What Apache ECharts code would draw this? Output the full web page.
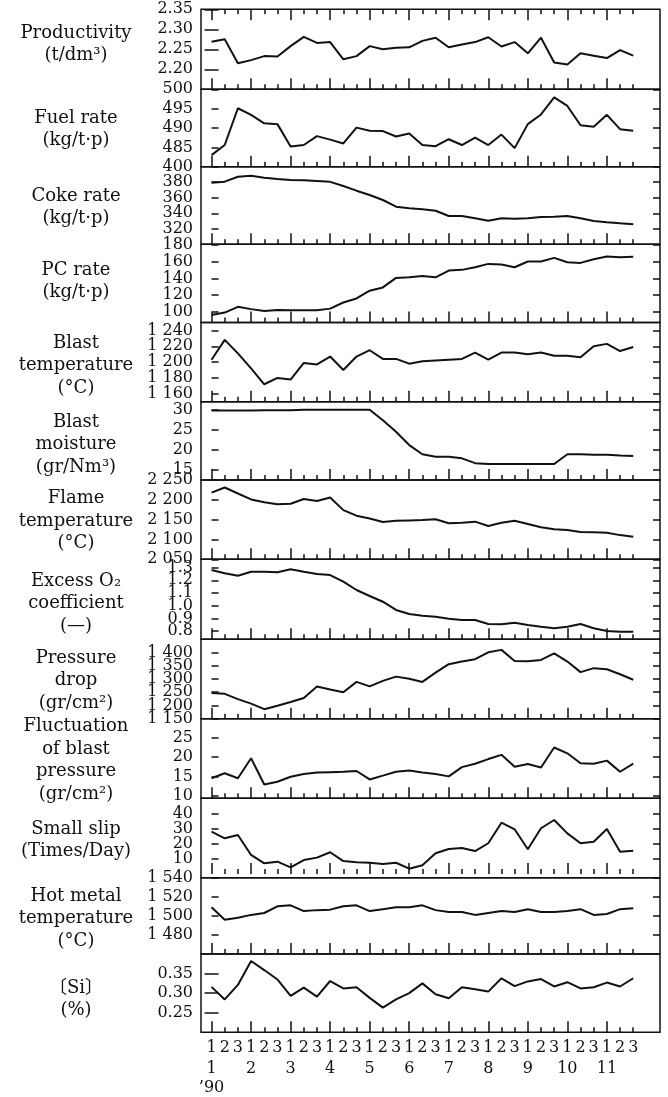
<!DOCTYPE html>
<html>
<head>
<meta charset="utf-8">
<script src="https://cdn.jsdelivr.net/npm/echarts@6/dist/echarts.min.js"></script>
<style>
  html, body { margin: 0; padding: 0; background: #fff; }
  #chart { width: 668px; height: 1097px; }
</style>
</head>
<body>
<div id="chart"></div>
<script>
// x axis: ten-day periods (1st/2nd/3rd dekad) of Jan - Nov 1990
const dekadLabels = ['1', '2', '3']
const monthLabels = ['1', '2', '3', '4', '5', '6', '7', '8', '9', '10', '11']
const yearLabel = '’90'

// series values, one per dekad (33 points)
const productivity = [2.269, 2.275, 2.215, 2.223, 2.233, 2.232, 2.258, 2.281, 2.266, 2.268, 2.225, 2.233, 2.258, 2.250, 2.254, 2.255, 2.271, 2.279, 2.255, 2.262, 2.268, 2.280, 2.257, 2.268, 2.240, 2.279, 2.217, 2.212, 2.240, 2.234, 2.228, 2.248, 2.234]
const fuelRate = [483.0, 485.6, 495.1, 493.4, 491.2, 491.0, 485.2, 485.6, 487.9, 487.0, 486.0, 490.1, 489.3, 489.2, 487.8, 488.6, 485.6, 485.3, 487.1, 485.6, 487.5, 485.6, 488.3, 484.8, 491.0, 493.5, 497.9, 495.7, 490.7, 490.3, 493.4, 489.7, 489.3]
const cokeRate = [379.4, 380.7, 387.1, 388.4, 385.8, 384.1, 382.9, 382.5, 381.6, 380.5, 375.1, 369.1, 363.5, 357.1, 348.5, 346.4, 345.1, 343.3, 336.5, 336.5, 333.5, 330.4, 333.5, 333.0, 333.5, 335.2, 335.6, 336.5, 333.5, 330.0, 328.3, 327.0, 325.8]
const pcRate = [96.5, 99.3, 106.1, 103.4, 101.3, 102.5, 102.2, 102.2, 102.2, 104.0, 111.3, 116.1, 125.3, 129.2, 140.5, 141.2, 142.9, 141.2, 149.2, 150.1, 153.2, 157.2, 156.4, 153.2, 160.0, 160.0, 164.4, 159.2, 158.4, 162.8, 166.0, 165.1, 165.6]
const blastTemp = [1203, 1228, 1211, 1192, 1172, 1180, 1178, 1199, 1197, 1207, 1190, 1207, 1215, 1204, 1204, 1198, 1201, 1202, 1203, 1204, 1212, 1203, 1212, 1212, 1210, 1212, 1208, 1208, 1206, 1220, 1223, 1214, 1219]
const blastMoisture = [29.8, 29.8, 29.8, 29.8, 29.9, 29.9, 29.9, 30.0, 30.0, 30.0, 30.0, 30.0, 30.0, 27.4, 24.5, 21.2, 18.9, 18.3, 18.3, 17.9, 16.7, 16.5, 16.5, 16.5, 16.5, 16.5, 16.5, 18.9, 18.9, 18.8, 18.8, 18.6, 18.5]
const flameTemp = [2218, 2231, 2216, 2201, 2194, 2189, 2190, 2202, 2197, 2206, 2174, 2160, 2153, 2144, 2147, 2148, 2149, 2151, 2141, 2142, 2145, 2134, 2142, 2147, 2139, 2131, 2126, 2124, 2119, 2118, 2117, 2111, 2107]
const excessO2 = [1.281, 1.255, 1.236, 1.267, 1.267, 1.263, 1.286, 1.267, 1.249, 1.241, 1.189, 1.123, 1.076, 1.031, 0.966, 0.934, 0.921, 0.913, 0.897, 0.887, 0.887, 0.856, 0.853, 0.866, 0.848, 0.834, 0.822, 0.834, 0.856, 0.822, 0.800, 0.795, 0.795]
const pressureDrop = [1247, 1244, 1224, 1207, 1186, 1199, 1213, 1228, 1272, 1260, 1250, 1289, 1272, 1293, 1309, 1301, 1289, 1324, 1356, 1366, 1375, 1401, 1410, 1368, 1367, 1372, 1397, 1366, 1326, 1341, 1337, 1318, 1297]
const blastPressureFluct = [14.5, 15.8, 14.5, 19.7, 12.9, 13.6, 14.9, 15.6, 16.0, 16.1, 16.2, 16.4, 14.2, 15.2, 16.2, 16.5, 16.0, 15.6, 15.0, 17.4, 18.3, 19.5, 20.6, 17.5, 18.2, 17.3, 22.5, 21.0, 18.4, 18.3, 19.1, 16.2, 18.3]
const smallSlip = [28.2, 23.8, 26.0, 12.7, 7.1, 8.2, 4.4, 9.3, 10.9, 14.5, 8.6, 7.8, 7.5, 6.6, 7.5, 3.5, 5.8, 13.8, 16.7, 17.3, 15.3, 20.5, 34.2, 29.8, 16.5, 30.5, 36.0, 27.1, 20.5, 21.5, 30.0, 14.9, 15.5]
const hotMetalTemp = [1509, 1496, 1498, 1501, 1503, 1510, 1511, 1505, 1506, 1506.5, 1510, 1511, 1505, 1507, 1509, 1509, 1511, 1506, 1504, 1504, 1501, 1503, 1505, 1504, 1507, 1504, 1504, 1505, 1507, 1501, 1502, 1507, 1508]
const siContent = [0.316, 0.284, 0.321, 0.382, 0.359, 0.335, 0.293, 0.314, 0.291, 0.331, 0.312, 0.315, 0.288, 0.263, 0.284, 0.300, 0.325, 0.297, 0.287, 0.315, 0.310, 0.304, 0.338, 0.318, 0.330, 0.336, 0.317, 0.328, 0.312, 0.315, 0.327, 0.317, 0.338]

// y tick labels per panel
const productivityTicks = [2.20, 2.25, 2.30, 2.35]
const fuelRateTicks = [485, 490, 495, 500]
const cokeRateTicks = [320, 340, 360, 380, 400]
const pcRateTicks = [100, 120, 140, 160, 180]
const blastTempTicks = [1160, 1180, 1200, 1220, 1240]
const blastMoistureTicks = [15, 20, 25, 30]
const flameTempTicks = [2050, 2100, 2150, 2200, 2250]
const excessO2Ticks = [0.8, 0.9, 1.0, 1.1, 1.2, 1.3]
const pressureDropTicks = [1150, 1200, 1250, 1300, 1350, 1400]
const blastPressureFluctTicks = [10, 15, 20, 25]
const smallSlipTicks = [10, 20, 30, 40]
const hotMetalTempTicks = [1480, 1500, 1520, 1540]
const siContentTicks = [0.25, 0.30, 0.35]

const FONT = '"DejaVu Serif", "Noto Sans CJK JP", serif'
const INK = '#111'

// panel layout (pixel boxes, axis ranges, title position)
const panels = [
  { title: 'Productivity\n(t/dm³)', data: productivity, ticks: productivityTicks, digits: 2, top: 9.3, bottom: 89.3, min: 2.15, max: 2.35, titleY: 33 },
  { title: 'Fuel rate\n(kg/t·p)', data: fuelRate, ticks: fuelRateTicks, digits: 0, top: 89.3, bottom: 166.7, min: 480, max: 500, titleY: 118 },
  { title: 'Coke rate\n(kg/t·p)', data: cokeRate, ticks: cokeRateTicks, digits: 0, top: 166.7, bottom: 244.3, min: 300, max: 400, titleY: 196 },
  { title: 'PC rate\n(kg/t·p)', data: pcRate, ticks: pcRateTicks, digits: 0, top: 244.3, bottom: 322.5, min: 87.5, max: 180.5, titleY: 270 },
  { title: 'Blast\ntemperature\n(°C)', data: blastTemp, ticks: blastTempTicks, digits: 0, top: 322.5, bottom: 401.7, min: 1150, max: 1250, titleY: 343 },
  { title: 'Blast\nmoisture\n(gr/Nm³)', data: blastMoisture, ticks: blastMoistureTicks, digits: 0, top: 401.7, bottom: 480, min: 12.5, max: 32, titleY: 422 },
  { title: 'Flame\ntemperature\n(°C)', data: flameTemp, ticks: flameTempTicks, digits: 0, top: 480, bottom: 559.3, min: 2050, max: 2250, titleY: 498.5 },
  { title: 'Excess O₂\ncoefficient\n(—)', data: excessO2, ticks: excessO2Ticks, digits: 1, top: 559.3, bottom: 639.3, min: 0.735, max: 1.365, titleY: 581 },
  { title: 'Pressure\ndrop\n(gr/cm²)', data: pressureDrop, ticks: pressureDropTicks, digits: 0, top: 639.3, bottom: 718.7, min: 1150, max: 1450, titleY: 658 },
  { title: 'Fluctuation\nof blast\npressure\n(gr/cm²)', data: blastPressureFluct, ticks: blastPressureFluctTicks, digits: 0, top: 718.7, bottom: 798.3, min: 9.3, max: 30, titleY: 726.5 },
  { title: 'Small slip\n(Times/Day)', data: smallSlip, ticks: smallSlipTicks, digits: 0, top: 798.3, bottom: 877.7, min: -2.5, max: 50.5, titleY: 829 },
  { title: 'Hot metal\ntemperature\n(°C)', data: hotMetalTemp, ticks: hotMetalTempTicks, digits: 0, top: 877.7, bottom: 954, min: 1460, max: 1540, titleY: 896 },
  { title: '〔Si〕\n(%)', data: siContent, ticks: siContentTicks, digits: 2, top: 954, bottom: 1032.3, min: 0.2, max: 0.4, titleY: 988 },
]

const X_MIN = -0.8
const X_MAX = 34.03
const TITLE_LH = 22.5

const count = productivity.length
const allIdx = []
const monthIdx = []
const otherIdx = []
for (let i = 0; i < count; i++) {
  allIdx.push(i)
  if (i % 3 === 0) monthIdx.push(i)
  else otherIdx.push(i)
}

function fmt(v, digits) {
  let s = v.toFixed(digits)
  if (v >= 1000) s = s.slice(0, -3) + ' ' + s.slice(-3)
  return s
}

function xAxisDef(k, position, ticks, len, label) {
  return {
    gridIndex: k,
    type: 'value',
    position: position,
    min: X_MIN,
    max: X_MAX,
    axisLine: { show: false },
    splitLine: { show: false },
    axisTick: ticks
      ? {
          show: true,
          inside: true,
          length: len,
          customValues: ticks,
          lineStyle: { color: INK, width: 1.5 },
        }
      : { show: false },
    axisLabel: label || { show: false },
  }
}

function bottomLabel(values, margin, text) {
  return {
    show: true,
    customValues: values,
    showMinLabel: true,
    showMaxLabel: true,
    hideOverlap: false,
    margin: margin,
    fontFamily: FONT,
    fontSize: 16,
    lineHeight: 12,
    color: INK,
    formatter: v => text(Math.round(v)),
  }
}

const grid = []
const xAxis = []
const yAxis = []
const series = []
const graphic = []

panels.forEach((p, k) => {
  grid.push({
    left: 201,
    right: 8,
    top: p.top,
    height: p.bottom - p.top,
    show: true,
    borderColor: INK,
    borderWidth: 1.5,
  })

  const isLast = k === panels.length - 1

  const xMain = xAxis.length
  xAxis.push(xAxisDef(k, 'bottom', monthIdx, 11,
    isLast ? bottomLabel(allIdx, 10, i => dekadLabels[i % 3]) : null))
  xAxis.push(xAxisDef(k, 'bottom', otherIdx, 5,
    isLast ? bottomLabel(monthIdx, 31, i => monthLabels[i / 3]) : null))
  if (isLast) {
    xAxis.push(xAxisDef(k, 'bottom', null, 0, bottomLabel([0], 50, () => yearLabel)))
  }
  if (k === 0) {
    xAxis.push(xAxisDef(k, 'top', monthIdx, 11))
    xAxis.push(xAxisDef(k, 'top', otherIdx, 5))
  }

  // tick labels are split over two left axes (alternating) so close labels
  // are not dropped by the label overlap check
  const evenTicks = p.ticks.filter((v, i) => i % 2 === 0)
  const oddTicks = p.ticks.filter((v, i) => i % 2 === 1)
  const yLabel = values => ({
    show: true,
    customValues: values,
    showMinLabel: true,
    showMaxLabel: true,
    hideOverlap: false,
    margin: 8,
    fontFamily: FONT,
    fontSize: 16,
    color: INK,
    formatter: v => fmt(v, p.digits),
  })
  const yBase = {
    gridIndex: k,
    type: 'value',
    min: p.min,
    max: p.max,
    axisLine: { show: false },
    splitLine: { show: false },
    axisTick: {
      show: true,
      inside: true,
      length: 7,
      customValues: p.ticks,
      lineStyle: { color: INK, width: 1.5 },
    },
  }
  const yLeft = yAxis.length
  yAxis.push(Object.assign({}, yBase, { position: 'left', axisLabel: yLabel(evenTicks) }))
  yAxis.push(Object.assign({}, yBase, { position: 'left', axisTick: { show: false }, axisLabel: yLabel(oddTicks) }))
  yAxis.push(Object.assign({}, yBase, { position: 'right', axisLabel: { show: false } }))

  series.push({
    type: 'line',
    xAxisIndex: xMain,
    yAxisIndex: yLeft,
    data: p.data.map((v, i) => [i, v]),
    symbol: 'none',
    silent: true,
    lineStyle: { color: INK, width: 2 },
  })

  graphic.push({
    type: 'text',
    x: 76,
    y: p.titleY - TITLE_LH / 2,
    silent: true,
    style: {
      text: p.title,
      align: 'center',
      verticalAlign: 'top',
      fontFamily: FONT,
      fontSize: 18,
      lineHeight: TITLE_LH,
      fill: INK,
    },
  })
})

const chart = echarts.init(document.getElementById('chart'), null, { renderer: 'canvas' })
chart.setOption({
  animation: false,
  backgroundColor: '#fff',
  grid: grid,
  xAxis: xAxis,
  yAxis: yAxis,
  series: series,
  graphic: graphic,
})
</script>
</body>
</html>
